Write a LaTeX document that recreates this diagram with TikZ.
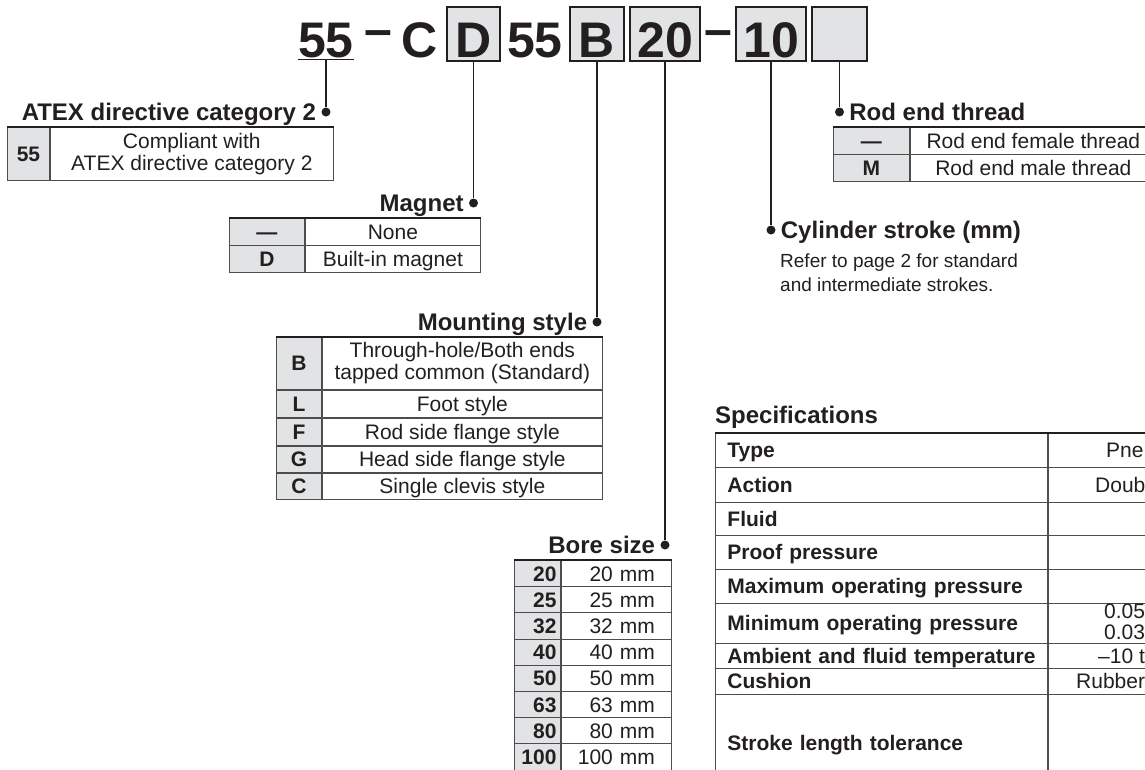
\documentclass[tikz,border=0pt]{standalone}
\usepackage{fontspec}
\setmainfont{Liberation Sans}
\usetikzlibrary{positioning}

\definecolor{ink}{HTML}{231F20}
\definecolor{keygray}{HTML}{E2E3E4}
\definecolor{rulegray}{HTML}{4D4D4D}

\newcommand{\cellfont}{\fontsize{21}{22}\selectfont}
\newcommand{\headfont}{\fontsize{24}{26}\selectfont\bfseries}
\newcommand{\codefont}{\fontsize{50}{50}\selectfont\bfseries}
\newcommand{\notefont}{\fontsize{19}{24}\selectfont}

\begin{document}
\begin{tikzpicture}[x=1pt, y=-1pt, text=ink,
    codetxt/.style={inner sep=0pt, font=\codefont, anchor=base},
    codebox/.style={draw=ink, line width=2pt, fill=keygray, minimum height=54pt, inner sep=0pt, font=\codefont, text height=46pt, text depth=0pt},
    leader/.style={draw=ink, line width=1.6pt},
    bullet/.style={circle, fill=ink, inner sep=0pt, minimum size=9pt},
    heading/.style={inner sep=0pt, font=\headfont, text height=17pt, text depth=0pt},
    tcell/.style={draw=rulegray, line width=0.9pt, inner sep=0pt, anchor=north west, align=center},
    keycell/.style={tcell, fill=keygray, font=\cellfont\bfseries},
    valcell/.style={tcell, font=\cellfont},
    oneline/.style={text height=15pt, text depth=0pt},
    toprule/.style={draw=ink, line width=2.2pt},
    speckey/.style={tcell, oneline, font=\cellfont\bfseries, text width=308pt, align=left, inner xsep=12pt},
    specval/.style={tcell, minimum width=420pt},
    valtext/.style={inner sep=0pt, font=\cellfont, anchor=base west}]
\useasboundingbox (0,0) rectangle (1145,769);
\clip (0,0) rectangle (1145,769);

% product code
\node[codetxt] (code55) at (326,57) {55};
\draw[leader] ([yshift=-2pt]code55.south west) -- ([yshift=-2pt]code55.south east);
\node[codetxt] (dash1) at (378,57) {\raisebox{11pt}{–}};
\node[codetxt] (codeC) at (420,57) {C};
\node[codebox, minimum width=53pt] (boxD) at (473.5,34) {D};
\node[codetxt] (code55b) at (535,57) {55};
\node[codebox, minimum width=54pt] (boxB) at (597,34) {B};
\node[codebox, minimum width=70pt] (box20) at (665,34) {20};
\node[codetxt] (dash2) at (718,57) {\raisebox{11pt}{–}};
\node[codebox, minimum width=70pt] (box10) at (771,34) {10};
\node[codebox, minimum width=55pt] (boxRod) at (839.5,34) {};

% leader ends
\node[bullet] (dotAtex) at (code55 |- 0,112) {};
\node[bullet] (dotMag) at (boxD |- 0,203) {};
\node[bullet] (dotMount) at (boxB |- 0,322) {};
\node[bullet] (dotBore) at (box20 |- 0,545) {};
\node[bullet] (dotStroke) at (box10 |- 0,230) {};
\node[bullet] (dotRod) at (boxRod |- 0,112) {};
\draw[leader] ([yshift=-2pt]code55.south) -- (dotAtex);
\draw[leader] (boxD) -- (dotMag);
\draw[leader] (boxB) -- (dotMount);
\draw[leader] (box20) -- (dotBore);
\draw[leader] (box10) -- (dotStroke);
\draw[leader] (boxRod) -- (dotRod);

\node[heading, left=5pt of dotAtex] (hdAtex) {ATEX directive category 2};
\node[heading, left=5pt of dotMag] (hdMag) {Magnet};
\node[heading, left=5pt of dotMount] (hdMount) {Mounting style};
\node[heading, left=5pt of dotBore] (hdBore) {Bore size};
\node[heading, right=5pt of dotStroke] (hdStroke) {Cylinder stroke (mm)};
\node[heading, right=5pt of dotRod] (hdRod) {Rod end thread};

% ATEX table
\node[keycell, minimum width=42pt, minimum height=53pt] (atexK) at (7,127) {55};
\node[valcell, minimum width=283pt, minimum height=53pt] (atexV) at (atexK.north east) {Compliant with\\ATEX directive category 2};
\draw[toprule] (atexK.north west) -- (atexV.north east);

% magnet table
\node[keycell, oneline, minimum width=75pt, minimum height=26.5pt] (magK1) at (229,218) {—};
\node[valcell, oneline, minimum width=175pt, minimum height=26.5pt] (magV1) at (magK1.north east) {None};
\node[keycell, oneline, minimum width=75pt, minimum height=26.5pt] (magK2) at (magK1.south west) {D};
\node[valcell, oneline, minimum width=175pt, minimum height=26.5pt] (magV2) at (magK2.north east) {Built-in magnet};
\draw[toprule] (magK1.north west) -- (magV1.north east);

% mounting style table
\node[keycell, minimum width=45pt, minimum height=52pt] (mntK1) at (276,337) {B};
\node[valcell, minimum width=280pt, minimum height=52pt] (mntV1) at (mntK1.north east) {Through-hole/Both ends\\tapped common (Standard)};
\node[keycell, oneline, minimum width=45pt, minimum height=27pt] (mntK2) at (mntK1.south west) {L};
\node[valcell, oneline, minimum width=280pt, minimum height=27pt] (mntV2) at (mntK2.north east) {Foot style};
\node[keycell, oneline, minimum width=45pt, minimum height=27pt] (mntK3) at (mntK2.south west) {F};
\node[valcell, oneline, minimum width=280pt, minimum height=27pt] (mntV3) at (mntK3.north east) {Rod side flange style};
\node[keycell, oneline, minimum width=45pt, minimum height=26pt] (mntK4) at (mntK3.south west) {G};
\node[valcell, oneline, minimum width=280pt, minimum height=26pt] (mntV4) at (mntK4.north east) {Head side flange style};
\node[keycell, oneline, minimum width=45pt, minimum height=26pt] (mntK5) at (mntK4.south west) {C};
\node[valcell, oneline, minimum width=280pt, minimum height=26pt] (mntV5) at (mntK5.north east) {Single clevis style};
\draw[toprule] (mntK1.north west) -- (mntV1.north east);

% bore size table
\foreach \size [count=\i] in {20,25,32,40,50,63,80,100} {
  \node[keycell, oneline, minimum width=46pt, minimum height=26.2pt, text width=38pt, align=right] (boreK\i) at (514,{560+(\i-1)*26.2}) {\size};
  \node[valcell, oneline, minimum width=110pt, minimum height=26.2pt, text width=77pt, align=right] (boreV\i) at (boreK\i.north east) {\size~mm};
}
\draw[toprule] (boreK1.north west) -- (boreV1.north east);

% rod end thread table
\node[keycell, oneline, minimum width=76pt, minimum height=26.5pt] (rodK1) at (833,127) {—};
\node[valcell, oneline, minimum width=246pt, minimum height=26.5pt] (rodV1) at (rodK1.north east) {Rod end female thread};
\node[keycell, oneline, minimum width=76pt, minimum height=26.5pt] (rodK2) at (rodK1.south west) {M};
\node[valcell, oneline, minimum width=246pt, minimum height=26.5pt] (rodV2) at (rodK2.north east) {Rod end male thread};
\draw[toprule] (rodK1.north west) -- (rodV1.north east);

% cylinder stroke note
\node[inner sep=0pt, font=\notefont, align=left, anchor=north west] (noteStroke) at (780,254) {Refer to page 2 for standard\\and intermediate strokes.};

% specifications
\node[heading, anchor=base west] (hdSpec) at (715,423) {Specifications};
\foreach \lab/\top/\h [count=\i] in {Type/433/34, Action/467/35, Fluid/502/33, Proof pressure/535/34,
    Maximum operating pressure/569/34, Minimum operating pressure/603/40,
    Ambient and fluid temperature/643/25, Cushion/668/26, Stroke length tolerance/694/98} {
  \node[speckey, minimum height=\h pt] (specK\i) at (715,\top) {\mbox{\lab}};
  \node[specval, minimum height=\h pt] (specV\i) at (specK\i.north east) {};
}
\draw[toprule] (specK1.north west) -- (specV1.north east);
\node[valtext] (valType) at (1106,457.5) {Pne};
\node[valtext] (valAction) at (1095,492) {Doub};
\node[valtext] (valMin1) at (1104,618) {0.05};
\node[valtext] (valMin2) at (1104,639) {0.03};
\node[valtext] (valTemp) at (1098,663) {–10 t};
\node[valtext] (valCush) at (1076,688.5) {Rubber};
\end{tikzpicture}
\end{document}
